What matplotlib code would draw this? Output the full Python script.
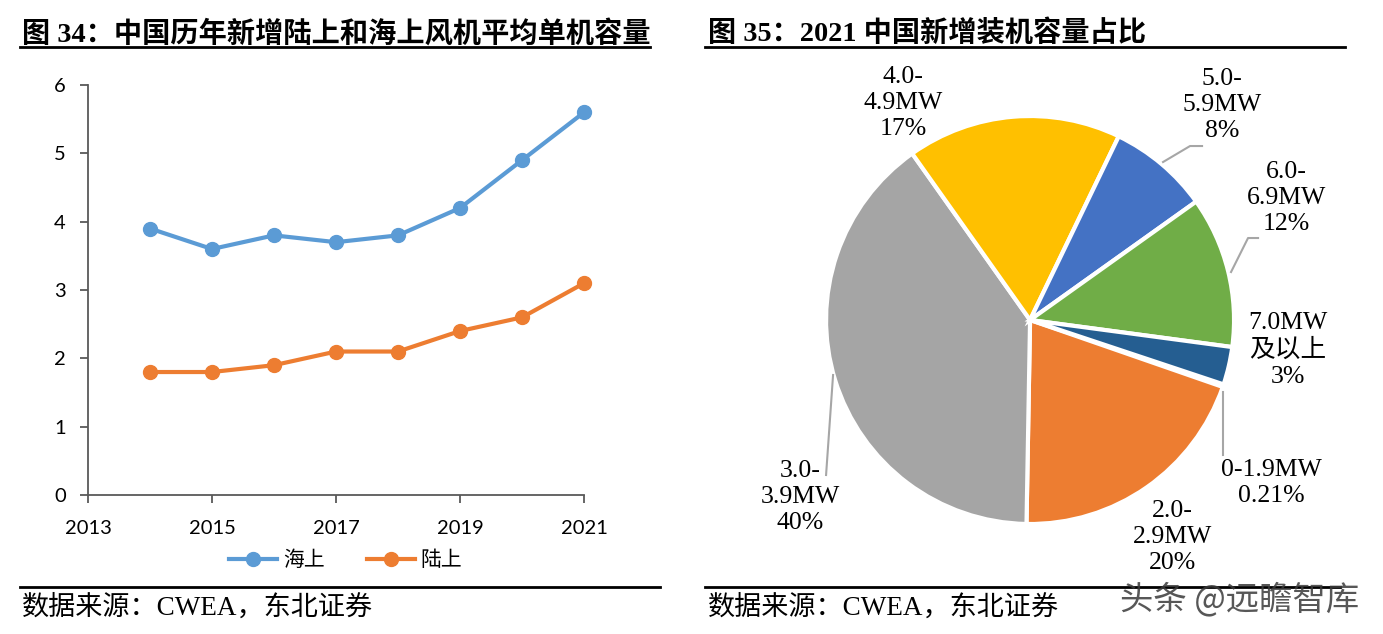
import matplotlib
matplotlib.use('Agg')
import matplotlib.pyplot as plt
from matplotlib.lines import Line2D

# left chart data
years = [2014, 2015, 2016, 2017, 2018, 2019, 2020, 2021]
offshore = [3.9, 3.6, 3.8, 3.7, 3.8, 4.2, 4.9, 5.6]
onshore = [1.8, 1.8, 1.9, 2.1, 2.1, 2.4, 2.6, 3.1]
series_names = ['海上', '陆上']
year_ticks = [2013, 2015, 2017, 2019, 2021]

# right chart data
cap_names = ['0-1.9MW', '2.0-\n2.9MW', '3.0-\n3.9MW', '4.0-\n4.9MW',
             '5.0-\n5.9MW', '6.0-\n6.9MW', '7.0MW\n及以上']
cap_share = [0.21, 20, 40, 17, 8, 12, 3]
cap_pct = ['0.21%', '20%', '40%', '17%', '8%', '12%', '3%']
cap_colors = ['#9E480E', '#ED7D31', '#A5A5A5', '#FFC000', '#4472C4', '#70AD47', '#255E91']

serif = ['Liberation Serif', 'Noto Sans CJK SC']
cjk = ['Noto Sans CJK SC', 'DejaVu Sans']

fig = plt.figure(figsize=(13.83, 6.34), dpi=100)

# ---- line chart
ax = fig.add_axes([0.0636, 0.2192, 0.3587, 0.6467])
ax.plot(years, offshore, color='#5B9BD5', lw=3, marker='o', ms=10, label=series_names[0])
ax.plot(years, onshore, color='#ED7D31', lw=3, marker='o', ms=10, label=series_names[1])
ax.set_xlim(2013, 2021)
ax.set_ylim(0, 6)
ax.set_xticks(year_ticks)
ax.set_yticks(range(0, 7))
for s in ['top', 'right']:
    ax.spines[s].set_visible(False)
for s in ['left', 'bottom']:
    ax.spines[s].set_color('#595959')
    ax.spines[s].set_linewidth(1.3)
ax.tick_params(axis='both', color='#595959', length=6, width=1.3, labelsize=14.5)
ax.tick_params(axis='x', pad=12)
ax.tick_params(axis='y', pad=10)
for lab in ax.get_xticklabels() + ax.get_yticklabels():
    lab.set_family('Lato')
for ln in ax.get_lines():
    ln.set_clip_on(False)

fig.legend(loc='center', bbox_to_anchor=(0.25, 0.117), ncol=2, frameon=False,
           prop={'family': cjk, 'size': 15}, handlelength=2.3, columnspacing=2.0,
           handletextpad=0.3)

# ---- pie chart
pa = fig.add_axes([0.5973, 0.1735, 0.295, 0.6435])
pa.pie(cap_share, colors=cap_colors, startangle=-18.4, counterclock=False, radius=1,
       wedgeprops={'edgecolor': 'white', 'linewidth': 3})
pa.set_xlim(-1, 1)
pa.set_ylim(-1, 1)
pa.set_aspect('equal')
pa.axis('off')

label_pos = [(1.181, -0.80), (0.696, -1.064), (-1.127, -0.868), (-0.623, 1.064),
             (0.941, 1.054), (1.255, 0.598), (1.265, -0.147)]
for name, pct, (lx, ly) in zip(cap_names, cap_pct, label_pos):
    pa.text(lx, ly, name + '\n' + pct, ha='center', va='center', fontsize=18.5,
            family=serif, linespacing=1.25)


def px(x, y):
    return (x - 1030) / 204, (320 - y) / 204


# leader lines
for pts in [[(1202, 146), (1190, 146), (1163, 162)],
            [(1258, 238), (1248, 238), (1231, 272)],
            [(1223, 392), (1223, 455)],
            [(833, 375), (826, 475)]]:
    xy = [px(*p) for p in pts]
    pa.plot([p[0] for p in xy], [p[1] for p in xy], color='#A6A6A6', lw=1.5, clip_on=False)

# ---- titles, rules, sources
fig.text(0.016, 0.947, '图 34：中国历年新增陆上和海上风机平均单机容量', fontsize=20.3,
         family=serif, weight='bold', va='center')
fig.text(0.512, 0.947, '图 35：2021 中国新增装机容量占比', fontsize=20.3,
         family=serif, weight='bold', va='center')
fig.add_artist(Line2D([0.0145, 0.470], [0.9259, 0.9259], color='black', lw=2))
fig.add_artist(Line2D([0.5098, 0.9725], [0.9259, 0.9259], color='black', lw=2))
fig.add_artist(Line2D([0.0145, 0.477], [0.0741, 0.0741], color='black', lw=2))
fig.add_artist(Line2D([0.5098, 0.969], [0.0741, 0.0741], color='black', lw=2))
fig.text(0.016, 0.042, '数据来源：CWEA，东北证券', fontsize=19.5, family=serif, va='center')
fig.text(0.512, 0.042, '数据来源：CWEA，东北证券', fontsize=19.5, family=serif, va='center')

fig.text(0.983, 0.053, '头条 @远瞻智库', fontsize=24, family=cjk, ha='right', va='center',
         color='#3a3a3a', alpha=0.85)

fig.savefig('out.png', dpi=100)
